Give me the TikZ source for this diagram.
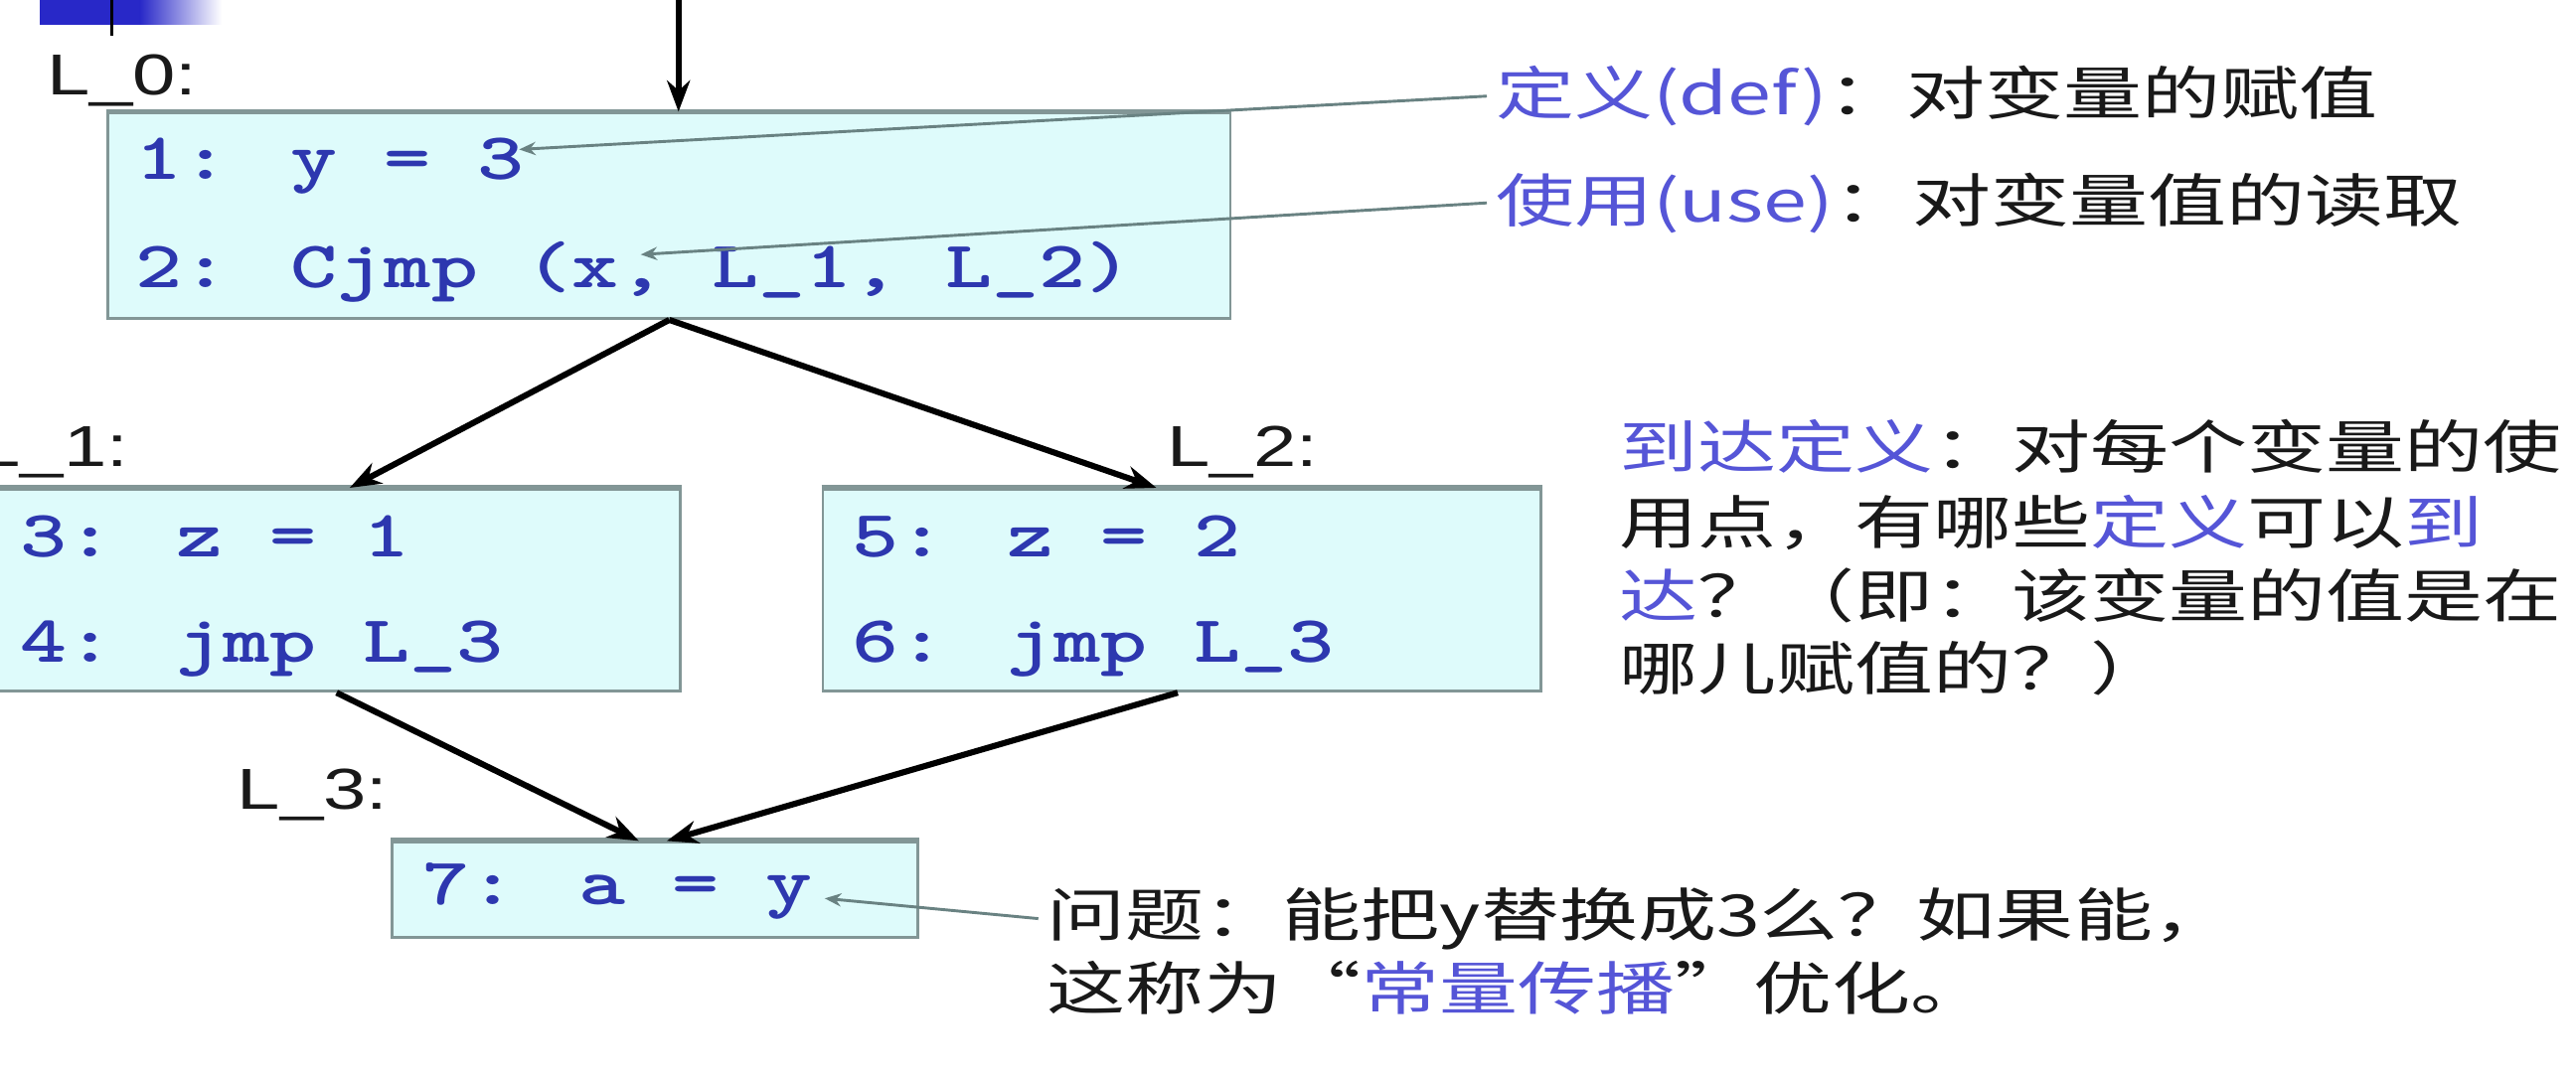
\documentclass[tikz,border=0pt]{standalone}
\usepackage{fontspec}
\setmainfont{Liberation Sans}
\newfontfamily\cjk{Noto Sans CJK SC}
\usetikzlibrary{arrows.meta}
\definecolor{boxfill}{RGB}{222,251,251}
\definecolor{boxline}{RGB}{130,150,150}
\definecolor{codeblue}{RGB}{45,55,175}
\definecolor{cnblue}{RGB}{85,85,215}
\definecolor{txt}{RGB}{25,25,25}
\definecolor{annline}{RGB}{105,130,130}
\definecolor{slideblue}{RGB}{40,40,200}
\begin{document}
\begin{tikzpicture}[x=0.2mm,y=-0.2mm,
  blk/.style={draw=boxline,line width=1pt,fill=boxfill,inner sep=0pt,anchor=north west},
  code/.style={anchor=base west,inner sep=0pt,xscale=1.34,text=codeblue,font=\ttfamily\bfseries\fontsize{23}{27}\selectfont},
  lbl/.style={anchor=base west,inner sep=0pt,xscale=1.34,text=txt,font=\fontsize{20}{24}\selectfont},
  cn/.style={anchor=base west,inner sep=0pt,xscale=1.36,text=txt,font=\cjk\fontsize{20}{24}\selectfont},
  flow/.style={-{Stealth[length=3.8mm,width=2.8mm]},line width=2.1pt,black},
  ann/.style={-{Stealth[length=2mm,width=1.6mm]},line width=1pt,annline},
]
\useasboundingbox (0,0) rectangle (1568,654.5);
\fill[white] (0,0) rectangle (1568,654.5);

% slide decoration
\fill[slideblue] (24,0) rectangle (85,15);
\shade[left color=slideblue,right color=white] (85,0) rectangle (135,15);
\draw[black,line width=1.2pt] (68,0) -- (68,22);

% blocks
\node[blk,minimum width=136.6mm,minimum height=25mm] (top) at (65,68) {};
\draw[boxline,line width=2pt] (top.north west) -- (top.north east);
\node[blk,minimum width=83.6mm,minimum height=24.6mm] (l1) at (-5,297) {};
\draw[boxline,line width=2pt] (l1.north west) -- (l1.north east);
\node[blk,minimum width=87.4mm,minimum height=24.6mm] (l2) at (500,297) {};
\draw[boxline,line width=2pt] (l2.north west) -- (l2.north east);
\node[blk,minimum width=64mm,minimum height=11.6mm] (l3) at (238,512) {};
\draw[boxline,line width=2pt] (l3.north west) -- (l3.north east);

% labels
\node[lbl] (lab0) at (28,57.5) {L\_0:};
\node[lbl] (lab1) at (-14,284) {L\_1:};
\node[lbl] (lab2) at (710,284) {L\_2:};
\node[lbl] (lab3) at (144,493) {L\_3:};

% code
\node[code] (c1) at (82,109) {1: y = 3};
\node[code] (c2) at (82,175) {2: Cjmp (x, L\_1, L\_2)};
\node[code] (c3) at (12,339) {3: z = 1};
\node[code] (c4) at (12,403) {4: jmp L\_3};
\node[code] (c5) at (518,339) {5: z = 2};
\node[code] (c6) at (518,403) {6: jmp L\_3};
\node[code] (c7) at (257,551) {7: a = y};

% flow edges
\coordinate (entry) at (413,0);
\draw[flow] (entry) -- (entry |- top.north);
\draw[flow] (top.south) -- ([xshift=1.6mm]l1.north);
\draw[flow] (top.south) -- ([xshift=-3.1mm]l2.north);
\draw[flow] (l1.south) -- ([xshift=-2mm]l3.north);
\draw[flow] ([xshift=-0.5mm]l2.south) -- ([xshift=1.4mm]l3.north);

% annotations
\node[cn] (def) at (910,70) {{\color{cnblue}定义(def)}：对变量的赋值};
\node[cn] (use) at (910,135) {{\color{cnblue}使用(use)}：对变量值的读取};
\coordinate (deftip) at (316,91);
\coordinate (usetip) at (390,155);
\draw[ann] ([xshift=-1mm]def.west) -- (deftip);
\draw[ann] ([xshift=-1mm]use.west) -- (usetip);

\node[cn] (r1) at (985,285) {{\color{cnblue}到达定义}：对每个变量的使};
\node[cn] (r2) at (985,331) {用点，有哪些{\color{cnblue}定义}可以{\color{cnblue}到}};
\node[cn] (r3) at (985,376) {{\color{cnblue}达}？（即：该变量的值是在};
\node[cn] (r4) at (985,420) {哪儿赋值的？）};

\node[cn] (q1) at (637,570) {问题：能把y替换成3么？如果能，};
\node[cn] (q2) at (637,615) {这称为“{\color{cnblue}常量传播}”优化。};
\coordinate (qtip) at (502,547);
\draw[ann] ([xshift=-1mm]q1.west) -- (qtip);
\end{tikzpicture}
\end{document}
